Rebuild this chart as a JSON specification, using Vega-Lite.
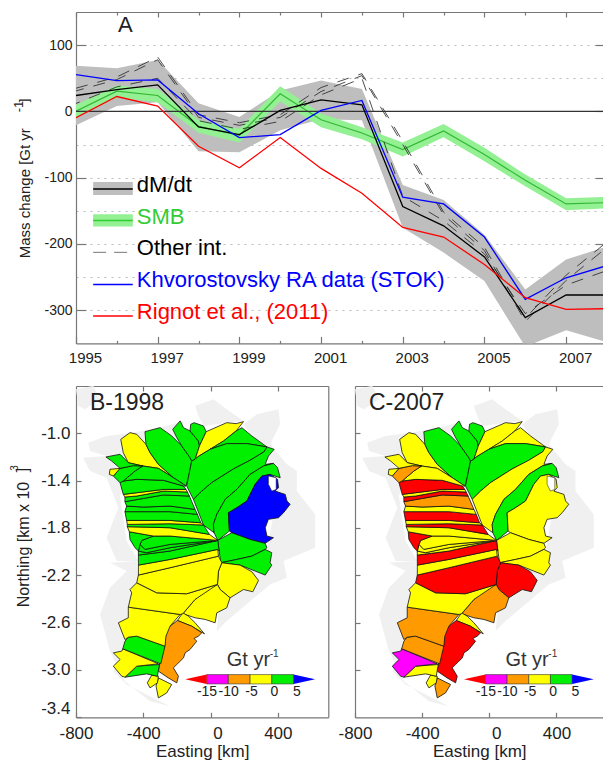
{
"$schema":"https://vega.github.io/schema/vega-lite/v6.json",
"padding":{"left":9,"top":11,"right":0,"bottom":2},
"background":"white",
"config":{"font":"Liberation Sans","view":{"stroke":null},"axis":{"labelColor":"#222","titleColor":"#222","titleFontWeight":"normal","grid":false,"domainColor":"#777","domainWidth":1.2,"tickColor":"#777","tickWidth":1.2,"domain":false}},
"datasets":{
"series":[
{"year":1995,"dm":24,"lo":-21,"hi":69,"smb":0.5,"sl":-10,"sh":10,"khv":55.5,"rig":-9.5,"o1":35,"o2":31,"o3":12},
{"year":1996,"dm":33,"lo":8,"hi":65,"smb":30.5,"sl":21,"sh":39,"khv":46.5,"rig":22.5,"o1":52,"o2":48,"o3":37},
{"year":1997,"dm":40,"lo":14,"hi":77.5,"smb":24,"sl":14,"sh":34,"khv":47.5,"rig":8,"o1":82,"o2":78,"o3":50},
{"year":1998,"dm":-23.5,"lo":-60,"hi":12.5,"smb":-22.5,"sl":-32,"sh":-13,"khv":-3.5,"rig":-52.5,"o1":-5,"o2":-9,"o3":-14},
{"year":1999,"dm":-35,"lo":-61.6,"hi":-8.5,"smb":-36,"sl":-47,"sh":-26,"khv":-39.5,"rig":-85,"o1":-17,"o2":-21,"o3":-27},
{"year":2000,"dm":1.5,"lo":-28.5,"hi":31.5,"smb":26.5,"sl":15,"sh":38,"khv":-35,"rig":-39.5,"o1":-5,"o2":-9,"o3":-15},
{"year":2001,"dm":17.5,"lo":-12,"hi":46.5,"smb":-12.5,"sl":-24,"sh":-3,"khv":1.5,"rig":-86,"o1":36,"o2":30,"o3":25},
{"year":2002,"dm":10,"lo":-13.5,"hi":34,"smb":-32.5,"sl":-42,"sh":-24,"khv":16.5,"rig":-123.5,"o1":57,"o2":54,"o3":50},
{"year":2003,"dm":-143.6,"lo":-175.5,"hi":-111,"smb":-57.5,"sl":-68,"sh":-47,"khv":-129.5,"rig":-175,"o1":-45,"o2":-50,"o3":-128},
{"year":2004,"dm":-172.6,"lo":-213,"hi":-133.6,"smb":-29.5,"sl":-39,"sh":-19,"khv":-139.6,"rig":-189.5,"o1":-152,"o2":-156,"o3":-165},
{"year":2005,"dm":-219.6,"lo":-256,"hi":-186,"smb":-65,"sl":-75,"sh":-55,"khv":-189.5,"rig":-231,"o1":-205,"o2":-210,"o3":-215},
{"year":2006,"dm":-311,"lo":-355,"hi":-268.6,"smb":-104,"sl":-113,"sh":-95,"khv":-283.6,"rig":-281,"o1":-312,"o2":-317,"o3":-305},
{"year":2007,"dm":-277,"lo":-330,"hi":-223.6,"smb":-139.6,"sl":-149,"sh":-131,"khv":-251,"rig":-298.6,"o1":-247,"o2":-255,"o3":-262},
{"year":2008,"dm":-277,"lo":-348,"hi":-203.6,"smb":-137.6,"sl":-146,"sh":-129,"khv":-232.6,"rig":-297.6,"o1":-197,"o2":-205,"o3":-240}
],
"legendRows":[
{"name":"dM/dt","x0":1995.42,"x1":1996.39,"tx":1996.49,"ty":-111,"ly":-117,"b0":-126,"b1":-106.5},
{"name":"SMB","x0":1995.42,"x1":1996.39,"tx":1996.49,"ty":-158.6,"ly":-164.6,"b0":-173.6,"b1":-155},
{"name":"Other int.","x0":1995.42,"x1":1996.39,"tx":1996.49,"ty":-205.6,"ly":-212.6},
{"name":"Khvorostovsky RA data (STOK)","x0":1995.42,"x1":1996.39,"tx":1996.49,"ty":-254.6,"ly":-261},
{"name":"Rignot et al., (2011)","x0":1995.42,"x1":1996.39,"tx":1996.49,"ty":-302.7,"ly":-308.7}
],
"land":[
{"b":"G1","e":-800,"n":-0.628},{"b":"G1","e":-697,"n":-0.599},{"b":"G1","e":-657,"n":-0.712},{"b":"G1","e":-747,"n":-0.797},{"b":"G1","e":-786,"n":-0.769},
{"b":"G2","e":-727,"n":-1.079},{"b":"G2","e":-618,"n":-1.022},{"b":"G2","e":-459,"n":-0.994},{"b":"G2","e":-261,"n":-0.938},{"b":"G2","e":-161,"n":-0.895},{"b":"G2","e":-161,"n":-1.121},{"b":"G2","e":-439,"n":-1.375},{"b":"G2","e":-618,"n":-1.192},{"b":"G2","e":-717,"n":-1.149},
{"b":"G3","e":-757,"n":-1.206},{"b":"G3","e":-618,"n":-1.192},{"b":"G3","e":-499,"n":-1.375},{"b":"G3","e":-538,"n":-1.53},{"b":"G3","e":-499,"n":-1.911},{"b":"G3","e":-429,"n":-2.08},{"b":"G3","e":-558,"n":-2.08},{"b":"G3","e":-618,"n":-1.882},{"b":"G3","e":-548,"n":-1.629},{"b":"G3","e":-618,"n":-1.375},{"b":"G3","e":-717,"n":-1.318},
{"b":"G4","e":-598,"n":-2.094},{"b":"G4","e":-439,"n":-2.08},{"b":"G4","e":-429,"n":-2.277},{"b":"G4","e":-538,"n":-2.898},{"b":"G4","e":-578,"n":-3.01},{"b":"G4","e":-499,"n":-3.123},{"b":"G4","e":-320,"n":-3.25},{"b":"G4","e":-241,"n":-3.307},{"b":"G4","e":-360,"n":-3.264},{"b":"G4","e":-509,"n":-3.095},{"b":"G4","e":-598,"n":-2.841},{"b":"G4","e":-657,"n":-2.531},{"b":"G4","e":-598,"n":-2.305},{"b":"G4","e":-499,"n":-2.164},
{"b":"G5","e":-92,"n":-0.769},{"b":"G5","e":17,"n":-0.712},{"b":"G5","e":96,"n":-0.797},{"b":"G5","e":196,"n":-0.895},{"b":"G5","e":96,"n":-0.91},{"b":"G5","e":-42,"n":-0.938},{"b":"G5","e":-72,"n":-0.853},
{"b":"G6","e":196,"n":-0.924},{"b":"G6","e":275,"n":-0.839},{"b":"G6","e":404,"n":-0.797},{"b":"G6","e":414,"n":-0.924},{"b":"G6","e":354,"n":-1.093},{"b":"G6","e":454,"n":-1.262},{"b":"G6","e":513,"n":-1.318},{"b":"G6","e":513,"n":-1.488},{"b":"G6","e":622,"n":-1.685},{"b":"G6","e":622,"n":-1.967},{"b":"G6","e":434,"n":-2.08},{"b":"G6","e":454,"n":-2.221},{"b":"G6","e":354,"n":-2.277},{"b":"G6","e":96,"n":-2.587},{"b":"G6","e":37,"n":-2.672},{"b":"G6","e":57,"n":-2.362},{"b":"G6","e":335,"n":-1.995},{"b":"G6","e":374,"n":-1.685},{"b":"G6","e":354,"n":-1.262},{"b":"G6","e":235,"n":-1.008}
],
"holes":[
{"b":"H1","e":344,"n":-1.361},{"b":"H1","e":390,"n":-1.375},{"b":"H1","e":390,"n":-1.474},{"b":"H1","e":364,"n":-1.488},{"b":"H1","e":344,"n":-1.431},{"b":"H1","e":344,"n":-1.361}
],
"rates":[
{"b":"N1","c1998":"-5 to 0","c2007":"-5 to 0"},{"b":"N2","c1998":"0 to 5","c2007":"0 to 5"},{"b":"N3","c1998":"0 to 5","c2007":"0 to 5"},{"b":"N4","c1998":"0 to 5","c2007":"0 to 5"},{"b":"N5","c1998":"-5 to 0","c2007":"-5 to 0"},
{"b":"NEa","c1998":"0 to 5","c2007":"-5 to 0"},{"b":"NEb","c1998":"0 to 5","c2007":"0 to 5"},{"b":"NEc","c1998":"0 to 5","c2007":"-5 to 0"},{"b":"NEd","c1998":"0 to 5","c2007":"0 to 5"},{"b":"NEe","c1998":"over 5","c2007":"-5 to 0"},
{"b":"E1","c1998":"0 to 5","c2007":"-5 to 0"},{"b":"E2","c1998":"0 to 5","c2007":"-5 to 0"},{"b":"SE1","c1998":"-5 to 0","c2007":"under -15"},{"b":"SE2","c1998":"-5 to 0","c2007":"-10 to -5"},{"b":"S","c1998":"-5 to 0","c2007":"-5 to 0"},{"b":"SE3","c1998":"-10 to -5","c2007":"under -15"},{"b":"ST","c1998":"-5 to 0","c2007":"-10 to -5"},{"b":"SS","c1998":"-5 to 0","c2007":"-5 to 0"},
{"b":"SW1","c1998":"0 to 5","c2007":"-5 to 0"},{"b":"SW2","c1998":"-5 to 0","c2007":"-15 to -10"},{"b":"SW3","c1998":"0 to 5","c2007":"-10 to -5"},{"b":"SW4","c1998":"-5 to 0","c2007":"-10 to -5"},{"b":"WS1","c1998":"-5 to 0","c2007":"-5 to 0"},{"b":"WS2","c1998":"-5 to 0","c2007":"under -15"},
{"b":"W15","c1998":"-5 to 0","c2007":"-5 to 0"},{"b":"W14","c1998":"0 to 5","c2007":"under -15"},{"b":"W13","c1998":"0 to 5","c2007":"-5 to 0"},{"b":"W12","c1998":"0 to 5","c2007":"-5 to 0"},{"b":"W11","c1998":"0 to 5","c2007":"-5 to 0"},{"b":"W10","c1998":"0 to 5","c2007":"under -15"},{"b":"W9","c1998":"-5 to 0","c2007":"-5 to 0"},{"b":"W8","c1998":"0 to 5","c2007":"under -15"},{"b":"W7","c1998":"-5 to 0","c2007":"-5 to 0"},{"b":"W6","c1998":"0 to 5","c2007":"under -15"},{"b":"W5","c1998":"0 to 5","c2007":"-5 to 0"},{"b":"W4","c1998":"0 to 5","c2007":"-10 to -5"},{"b":"W3","c1998":"0 to 5","c2007":"under -15"},{"b":"W2","c1998":"-5 to 0","c2007":"-5 to 0"},{"b":"W1","c1998":"0 to 5","c2007":"under -15"},
{"b":"NW3","c1998":"0 to 5","c2007":"-5 to 0"},{"b":"NW2","c1998":"0 to 5","c2007":"-10 to -5"},{"b":"NW1","c1998":"-5 to 0","c2007":"-5 to 0"},{"b":"NW0","c1998":"0 to 5","c2007":"-5 to 0"}
],
"basins":[
{"b":"N1","e":-534,"n":-1.051},{"b":"N1","e":-479,"n":-0.994},{"b":"N1","e":-439,"n":-1.008},{"b":"N1","e":-384,"n":-1.093},{"b":"N1","e":-360,"n":-1.163},{"b":"N1","e":-310,"n":-1.262},{"b":"N1","e":-221,"n":-1.375},{"b":"N1","e":-310,"n":-1.296},{"b":"N1","e":-403,"n":-1.276},{"b":"N1","e":-489,"n":-1.248},{"b":"N1","e":-519,"n":-1.163},{"b":"N1","e":-534,"n":-1.051},
{"b":"N2","e":-390,"n":-0.986},{"b":"N2","e":-300,"n":-0.952},{"b":"N2","e":-231,"n":-1.022},{"b":"N2","e":-171,"n":-1.107},{"b":"N2","e":-122,"n":-1.206},{"b":"N2","e":-112,"n":-1.234},{"b":"N2","e":-132,"n":-1.375},{"b":"N2","e":-146,"n":-1.445},{"b":"N2","e":-221,"n":-1.375},{"b":"N2","e":-310,"n":-1.262},{"b":"N2","e":-360,"n":-1.163},{"b":"N2","e":-384,"n":-1.093},{"b":"N2","e":-390,"n":-0.986},
{"b":"N3","e":-225,"n":-0.966},{"b":"N3","e":-181,"n":-0.895},{"b":"N3","e":-161,"n":-0.952},{"b":"N3","e":-122,"n":-0.98},{"b":"N3","e":-72,"n":-1.065},{"b":"N3","e":-66,"n":-1.107},{"b":"N3","e":-92,"n":-1.22},{"b":"N3","e":-112,"n":-1.234},{"b":"N3","e":-122,"n":-1.206},{"b":"N3","e":-171,"n":-1.107},{"b":"N3","e":-201,"n":-1.036},{"b":"N3","e":-225,"n":-0.966},
{"b":"N4","e":-118,"n":-0.924},{"b":"N4","e":-98,"n":-0.91},{"b":"N4","e":-42,"n":-0.938},{"b":"N4","e":-26,"n":-0.986},{"b":"N4","e":-66,"n":-1.107},{"b":"N4","e":-72,"n":-1.065},{"b":"N4","e":-122,"n":-0.98},{"b":"N4","e":-118,"n":-0.924},
{"b":"N5","e":-26,"n":-0.986},{"b":"N5","e":96,"n":-0.91},{"b":"N5","e":152,"n":-0.918},{"b":"N5","e":196,"n":-0.901},{"b":"N5","e":152,"n":-0.98},{"b":"N5","e":77,"n":-1.065},{"b":"N5","e":-3,"n":-1.135},{"b":"N5","e":-78,"n":-1.2},{"b":"N5","e":-92,"n":-1.22},{"b":"N5","e":-66,"n":-1.107},{"b":"N5","e":-26,"n":-0.986},
{"b":"NEa","e":-3,"n":-1.135},{"b":"NEa","e":77,"n":-1.065},{"b":"NEa","e":152,"n":-0.98},{"b":"NEa","e":186,"n":-0.952},{"b":"NEa","e":245,"n":-1.022},{"b":"NEa","e":335,"n":-1.115},{"b":"NEa","e":216,"n":-1.087},{"b":"NEa","e":96,"n":-1.087},{"b":"NEa","e":-3,"n":-1.135},
{"b":"NEb","e":-92,"n":-1.22},{"b":"NEb","e":-78,"n":-1.2},{"b":"NEb","e":-3,"n":-1.135},{"b":"NEb","e":96,"n":-1.087},{"b":"NEb","e":216,"n":-1.087},{"b":"NEb","e":335,"n":-1.115},{"b":"NEb","e":319,"n":-1.155},{"b":"NEb","e":235,"n":-1.228},{"b":"NEb","e":136,"n":-1.301},{"b":"NEb","e":7,"n":-1.417},{"b":"NEb","e":-52,"n":-1.488},{"b":"NEb","e":-102,"n":-1.558},{"b":"NEb","e":-142,"n":-1.445},{"b":"NEb","e":-132,"n":-1.375},{"b":"NEb","e":-112,"n":-1.234},{"b":"NEb","e":-92,"n":-1.22},
{"b":"NEc","e":-102,"n":-1.558},{"b":"NEc","e":-52,"n":-1.488},{"b":"NEc","e":7,"n":-1.417},{"b":"NEc","e":136,"n":-1.301},{"b":"NEc","e":235,"n":-1.228},{"b":"NEc","e":319,"n":-1.155},{"b":"NEc","e":335,"n":-1.115},{"b":"NEc","e":378,"n":-1.135},{"b":"NEc","e":344,"n":-1.192},{"b":"NEc","e":325,"n":-1.262},{"b":"NEc","e":374,"n":-1.254},{"b":"NEc","e":315,"n":-1.276},{"b":"NEc","e":235,"n":-1.347},{"b":"NEc","e":156,"n":-1.474},{"b":"NEc","e":87,"n":-1.558},{"b":"NEc","e":37,"n":-1.685},{"b":"NEc","e":17,"n":-1.77},{"b":"NEc","e":21,"n":-1.84},{"b":"NEc","e":-42,"n":-1.775},{"b":"NEc","e":-102,"n":-1.558},
{"b":"NEd","e":17,"n":-1.77},{"b":"NEd","e":37,"n":-1.685},{"b":"NEd","e":87,"n":-1.558},{"b":"NEd","e":156,"n":-1.474},{"b":"NEd","e":235,"n":-1.347},{"b":"NEd","e":315,"n":-1.276},{"b":"NEd","e":374,"n":-1.254},{"b":"NEd","e":398,"n":-1.29},{"b":"NEd","e":414,"n":-1.375},{"b":"NEd","e":354,"n":-1.347},{"b":"NEd","e":305,"n":-1.361},{"b":"NEd","e":265,"n":-1.431},{"b":"NEd","e":216,"n":-1.572},{"b":"NEd","e":156,"n":-1.629},{"b":"NEd","e":106,"n":-1.671},{"b":"NEd","e":112,"n":-1.826},{"b":"NEd","e":43,"n":-1.905},{"b":"NEd","e":21,"n":-1.84},{"b":"NEd","e":17,"n":-1.77},
{"b":"NEe","e":305,"n":-1.361},{"b":"NEe","e":354,"n":-1.347},{"b":"NEe","e":398,"n":-1.389},{"b":"NEe","e":404,"n":-1.459},{"b":"NEe","e":384,"n":-1.488},{"b":"NEe","e":444,"n":-1.516},{"b":"NEe","e":454,"n":-1.572},{"b":"NEe","e":473,"n":-1.6},{"b":"NEe","e":434,"n":-1.671},{"b":"NEe","e":404,"n":-1.713},{"b":"NEe","e":344,"n":-1.727},{"b":"NEe","e":325,"n":-1.798},{"b":"NEe","e":335,"n":-1.868},{"b":"NEe","e":374,"n":-1.882},{"b":"NEe","e":325,"n":-1.93},{"b":"NEe","e":235,"n":-1.897},{"b":"NEe","e":126,"n":-1.84},{"b":"NEe","e":112,"n":-1.826},{"b":"NEe","e":106,"n":-1.671},{"b":"NEe","e":156,"n":-1.629},{"b":"NEe","e":216,"n":-1.572},{"b":"NEe","e":265,"n":-1.431},{"b":"NEe","e":305,"n":-1.361},
{"b":"E1","e":43,"n":-1.905},{"b":"E1","e":126,"n":-1.84},{"b":"E1","e":235,"n":-1.897},{"b":"E1","e":325,"n":-1.93},{"b":"E1","e":335,"n":-1.967},{"b":"E1","e":325,"n":-1.981},{"b":"E1","e":245,"n":-2.038},{"b":"E1","e":156,"n":-2.066},{"b":"E1","e":61,"n":-2.094},{"b":"E1","e":51,"n":-1.995},{"b":"E1","e":43,"n":-1.905},
{"b":"E2","e":61,"n":-2.094},{"b":"E2","e":156,"n":-2.066},{"b":"E2","e":245,"n":-2.038},{"b":"E2","e":325,"n":-1.981},{"b":"E2","e":364,"n":-2.009},{"b":"E2","e":354,"n":-2.094},{"b":"E2","e":364,"n":-2.114},{"b":"E2","e":325,"n":-2.198},{"b":"E2","e":265,"n":-2.164},{"b":"E2","e":176,"n":-2.114},{"b":"E2","e":61,"n":-2.094},
{"b":"SE1","e":67,"n":-2.094},{"b":"SE1","e":47,"n":-2.164},{"b":"SE1","e":41,"n":-2.277},{"b":"SE1","e":57,"n":-2.32},{"b":"SE1","e":116,"n":-2.39},{"b":"SE1","e":196,"n":-2.32},{"b":"SE1","e":251,"n":-2.339},{"b":"SE1","e":285,"n":-2.243},{"b":"SE1","e":245,"n":-2.17},{"b":"SE1","e":176,"n":-2.114},{"b":"SE1","e":67,"n":-2.094},
{"b":"SE2","e":41,"n":-2.277},{"b":"SE2","e":57,"n":-2.32},{"b":"SE2","e":116,"n":-2.39},{"b":"SE2","e":96,"n":-2.475},{"b":"SE2","e":37,"n":-2.517},{"b":"SE2","e":27,"n":-2.601},{"b":"SE2","e":-32,"n":-2.573},{"b":"SE2","e":-92,"n":-2.559},{"b":"SE2","e":-165,"n":-2.525},{"b":"SE2","e":-92,"n":-2.404},{"b":"SE2","e":-3,"n":-2.305},{"b":"SE2","e":41,"n":-2.277},
{"b":"S","e":-165,"n":-2.517},{"b":"S","e":-197,"n":-2.582},{"b":"S","e":-112,"n":-2.63},{"b":"S","e":-36,"n":-2.695},{"b":"S","e":-92,"n":-2.601},{"b":"S","e":-132,"n":-2.545},{"b":"S","e":-165,"n":-2.517},
{"b":"SE3","e":-197,"n":-2.582},{"b":"SE3","e":-112,"n":-2.63},{"b":"SE3","e":-52,"n":-2.686},{"b":"SE3","e":-72,"n":-2.714},{"b":"SE3","e":-98,"n":-2.734},{"b":"SE3","e":-82,"n":-2.757},{"b":"SE3","e":-122,"n":-2.827},{"b":"SE3","e":-151,"n":-2.855},{"b":"SE3","e":-161,"n":-2.898},{"b":"SE3","e":-201,"n":-2.954},{"b":"SE3","e":-221,"n":-2.982},{"b":"SE3","e":-191,"n":-3.053},{"b":"SE3","e":-201,"n":-3.109},{"b":"SE3","e":-251,"n":-3.067},{"b":"SE3","e":-310,"n":-3.01},{"b":"SE3","e":-296,"n":-2.884},{"b":"SE3","e":-271,"n":-2.785},{"b":"SE3","e":-265,"n":-2.672},{"b":"SE3","e":-241,"n":-2.63},{"b":"SE3","e":-197,"n":-2.582},
{"b":"ST","e":-310,"n":-3.067},{"b":"ST","e":-231,"n":-3.123},{"b":"ST","e":-261,"n":-3.194},{"b":"ST","e":-310,"n":-3.236},{"b":"ST","e":-324,"n":-3.137},{"b":"ST","e":-310,"n":-3.067},
{"b":"SS","e":-350,"n":-3.044},{"b":"SS","e":-310,"n":-3.053},{"b":"SS","e":-316,"n":-3.109},{"b":"SS","e":-360,"n":-3.151},{"b":"SS","e":-376,"n":-3.109},{"b":"SS","e":-350,"n":-3.044},
{"b":"SW1","e":-509,"n":-3.061},{"b":"SW1","e":-439,"n":-2.968},{"b":"SW1","e":-304,"n":-2.954},{"b":"SW1","e":-316,"n":-3.053},{"b":"SW1","e":-380,"n":-3.033},{"b":"SW1","e":-509,"n":-3.061},
{"b":"SW2","e":-522,"n":-2.821},{"b":"SW2","e":-310,"n":-2.948},{"b":"SW2","e":-439,"n":-2.968},{"b":"SW2","e":-509,"n":-3.061},{"b":"SW2","e":-528,"n":-3.053},{"b":"SW2","e":-578,"n":-2.968},{"b":"SW2","e":-538,"n":-2.912},{"b":"SW2","e":-578,"n":-2.855},{"b":"SW2","e":-528,"n":-2.841},{"b":"SW2","e":-522,"n":-2.821},
{"b":"SW3","e":-489,"n":-2.723},{"b":"SW3","e":-439,"n":-2.714},{"b":"SW3","e":-271,"n":-2.799},{"b":"SW3","e":-296,"n":-2.948},{"b":"SW3","e":-522,"n":-2.821},{"b":"SW3","e":-509,"n":-2.757},{"b":"SW3","e":-489,"n":-2.723},
{"b":"SW4","e":-489,"n":-2.469},{"b":"SW4","e":-181,"n":-2.531},{"b":"SW4","e":-241,"n":-2.63},{"b":"SW4","e":-265,"n":-2.714},{"b":"SW4","e":-271,"n":-2.799},{"b":"SW4","e":-439,"n":-2.714},{"b":"SW4","e":-489,"n":-2.723},{"b":"SW4","e":-509,"n":-2.743},{"b":"SW4","e":-548,"n":-2.601},{"b":"SW4","e":-489,"n":-2.559},{"b":"SW4","e":-489,"n":-2.469},
{"b":"WS1","e":-439,"n":-2.263},{"b":"WS1","e":-320,"n":-2.348},{"b":"WS1","e":-142,"n":-2.356},{"b":"WS1","e":41,"n":-2.277},{"b":"WS1","e":-92,"n":-2.404},{"b":"WS1","e":-165,"n":-2.525},{"b":"WS1","e":-181,"n":-2.531},{"b":"WS1","e":-489,"n":-2.469},{"b":"WS1","e":-469,"n":-2.348},{"b":"WS1","e":-479,"n":-2.32},{"b":"WS1","e":-439,"n":-2.263},
{"b":"WS2","e":-429,"n":-2.198},{"b":"WS2","e":-241,"n":-2.136},{"b":"WS2","e":47,"n":-2.038},{"b":"WS2","e":67,"n":-2.094},{"b":"WS2","e":47,"n":-2.164},{"b":"WS2","e":41,"n":-2.277},{"b":"WS2","e":-142,"n":-2.356},{"b":"WS2","e":-320,"n":-2.348},{"b":"WS2","e":-439,"n":-2.263},{"b":"WS2","e":-429,"n":-2.198},
{"b":"W15","e":-429,"n":-2.114},{"b":"W15","e":-241,"n":-2.066},{"b":"W15","e":43,"n":-1.981},{"b":"W15","e":47,"n":-2.038},{"b":"W15","e":-241,"n":-2.136},{"b":"W15","e":-429,"n":-2.198},{"b":"W15","e":-429,"n":-2.114},
{"b":"W14","e":-429,"n":-2.029},{"b":"W14","e":-241,"n":-1.995},{"b":"W14","e":43,"n":-1.905},{"b":"W14","e":51,"n":-1.995},{"b":"W14","e":43,"n":-1.981},{"b":"W14","e":-241,"n":-2.066},{"b":"W14","e":-429,"n":-2.114},{"b":"W14","e":-429,"n":-2.029},
{"b":"W13","e":-429,"n":-1.995},{"b":"W13","e":-380,"n":-2.009},{"b":"W13","e":-241,"n":-1.967},{"b":"W13","e":43,"n":-1.905},{"b":"W13","e":-241,"n":-1.995},{"b":"W13","e":-429,"n":-2.029},{"b":"W13","e":-429,"n":-1.995},
{"b":"W12","e":-419,"n":-1.939},{"b":"W12","e":-390,"n":-1.981},{"b":"W12","e":-241,"n":-1.939},{"b":"W12","e":43,"n":-1.905},{"b":"W12","e":-241,"n":-1.967},{"b":"W12","e":-380,"n":-2.009},{"b":"W12","e":-429,"n":-1.995},{"b":"W12","e":-419,"n":-1.939},
{"b":"W11","e":-340,"n":-1.868},{"b":"W11","e":-241,"n":-1.868},{"b":"W11","e":43,"n":-1.905},{"b":"W11","e":-241,"n":-1.939},{"b":"W11","e":-390,"n":-1.981},{"b":"W11","e":-419,"n":-1.939},{"b":"W11","e":-409,"n":-1.905},{"b":"W11","e":-340,"n":-1.868},
{"b":"W10","e":-483,"n":-1.832},{"b":"W10","e":-340,"n":-1.868},{"b":"W10","e":-409,"n":-1.905},{"b":"W10","e":-419,"n":-1.939},{"b":"W10","e":-429,"n":-1.995},{"b":"W10","e":-449,"n":-1.967},{"b":"W10","e":-479,"n":-1.897},{"b":"W10","e":-483,"n":-1.832},
{"b":"W9","e":-495,"n":-1.789},{"b":"W9","e":-241,"n":-1.798},{"b":"W9","e":-7,"n":-1.854},{"b":"W9","e":43,"n":-1.905},{"b":"W9","e":-241,"n":-1.868},{"b":"W9","e":-340,"n":-1.868},{"b":"W9","e":-483,"n":-1.832},{"b":"W9","e":-495,"n":-1.789},
{"b":"W8","e":-495,"n":-1.77},{"b":"W8","e":-241,"n":-1.764},{"b":"W8","e":-42,"n":-1.775},{"b":"W8","e":-7,"n":-1.854},{"b":"W8","e":-241,"n":-1.798},{"b":"W8","e":-495,"n":-1.789},{"b":"W8","e":-495,"n":-1.77},
{"b":"W7","e":-499,"n":-1.736},{"b":"W7","e":-241,"n":-1.736},{"b":"W7","e":-58,"n":-1.756},{"b":"W7","e":-42,"n":-1.775},{"b":"W7","e":-241,"n":-1.764},{"b":"W7","e":-495,"n":-1.77},{"b":"W7","e":-499,"n":-1.736},
{"b":"W6","e":-509,"n":-1.662},{"b":"W6","e":-241,"n":-1.662},{"b":"W6","e":-78,"n":-1.685},{"b":"W6","e":-58,"n":-1.756},{"b":"W6","e":-241,"n":-1.736},{"b":"W6","e":-499,"n":-1.736},{"b":"W6","e":-509,"n":-1.662},
{"b":"W5","e":-499,"n":-1.615},{"b":"W5","e":-399,"n":-1.623},{"b":"W5","e":-241,"n":-1.615},{"b":"W5","e":-92,"n":-1.643},{"b":"W5","e":-78,"n":-1.685},{"b":"W5","e":-241,"n":-1.662},{"b":"W5","e":-509,"n":-1.662},{"b":"W5","e":-499,"n":-1.615},
{"b":"W4","e":-509,"n":-1.578},{"b":"W4","e":-399,"n":-1.55},{"b":"W4","e":-280,"n":-1.521},{"b":"W4","e":-126,"n":-1.53},{"b":"W4","e":-92,"n":-1.643},{"b":"W4","e":-241,"n":-1.615},{"b":"W4","e":-399,"n":-1.623},{"b":"W4","e":-499,"n":-1.615},{"b":"W4","e":-509,"n":-1.578},
{"b":"W3","e":-509,"n":-1.538},{"b":"W3","e":-439,"n":-1.53},{"b":"W3","e":-280,"n":-1.488},{"b":"W3","e":-138,"n":-1.496},{"b":"W3","e":-126,"n":-1.53},{"b":"W3","e":-280,"n":-1.521},{"b":"W3","e":-399,"n":-1.55},{"b":"W3","e":-509,"n":-1.578},{"b":"W3","e":-509,"n":-1.538},
{"b":"W2","e":-519,"n":-1.516},{"b":"W2","e":-439,"n":-1.502},{"b":"W2","e":-280,"n":-1.474},{"b":"W2","e":-146,"n":-1.474},{"b":"W2","e":-138,"n":-1.496},{"b":"W2","e":-280,"n":-1.488},{"b":"W2","e":-439,"n":-1.53},{"b":"W2","e":-509,"n":-1.538},{"b":"W2","e":-519,"n":-1.516},
{"b":"W1","e":-538,"n":-1.417},{"b":"W1","e":-519,"n":-1.403},{"b":"W1","e":-439,"n":-1.389},{"b":"W1","e":-280,"n":-1.397},{"b":"W1","e":-161,"n":-1.445},{"b":"W1","e":-146,"n":-1.474},{"b":"W1","e":-280,"n":-1.474},{"b":"W1","e":-439,"n":-1.502},{"b":"W1","e":-519,"n":-1.516},{"b":"W1","e":-538,"n":-1.417},
{"b":"NW3","e":-403,"n":-1.276},{"b":"NW3","e":-310,"n":-1.296},{"b":"NW3","e":-221,"n":-1.375},{"b":"NW3","e":-146,"n":-1.445},{"b":"NW3","e":-161,"n":-1.445},{"b":"NW3","e":-280,"n":-1.397},{"b":"NW3","e":-439,"n":-1.389},{"b":"NW3","e":-519,"n":-1.403},{"b":"NW3","e":-449,"n":-1.318},{"b":"NW3","e":-403,"n":-1.276},
{"b":"NW2","e":-578,"n":-1.361},{"b":"NW2","e":-538,"n":-1.296},{"b":"NW2","e":-459,"n":-1.273},{"b":"NW2","e":-403,"n":-1.276},{"b":"NW2","e":-449,"n":-1.318},{"b":"NW2","e":-519,"n":-1.403},{"b":"NW2","e":-538,"n":-1.417},{"b":"NW2","e":-578,"n":-1.361},
{"b":"NW1","e":-598,"n":-1.304},{"b":"NW1","e":-538,"n":-1.296},{"b":"NW1","e":-578,"n":-1.361},{"b":"NW1","e":-602,"n":-1.347},{"b":"NW1","e":-598,"n":-1.304},
{"b":"NW0","e":-622,"n":-1.2},{"b":"NW0","e":-538,"n":-1.177},{"b":"NW0","e":-489,"n":-1.248},{"b":"NW0","e":-403,"n":-1.276},{"b":"NW0","e":-459,"n":-1.273},{"b":"NW0","e":-538,"n":-1.296},{"b":"NW0","e":-588,"n":-1.234},{"b":"NW0","e":-622,"n":-1.2}
],
"cbarBoxes":[
{"cls":"-15 to -10","e0":-23,"e1":106,"n0":-3.039,"n1":-3.118},
{"cls":"-10 to -5","e0":106,"e1":235,"n0":-3.039,"n1":-3.118},
{"cls":"-5 to 0","e0":235,"e1":364,"n0":-3.039,"n1":-3.118},
{"cls":"0 to 5","e0":364,"e1":493,"n0":-3.039,"n1":-3.118}
],
"cbarTips":[
{"cls":"under -15","e":-23,"n":-3.039},{"cls":"under -15","e":-23,"n":-3.118},{"cls":"under -15","e":-151,"n":-3.078},{"cls":"under -15","e":-23,"n":-3.039},
{"cls":"over 5","e":493,"n":-3.039},{"cls":"over 5","e":493,"n":-3.118},{"cls":"over 5","e":622,"n":-3.078},{"cls":"over 5","e":493,"n":-3.039}
],
"cbarLabels":[
{"t":"-15","e":-21,"n":-3.185},{"t":"-10","e":108,"n":-3.185},{"t":"-5","e":243,"n":-3.185},{"t":"0","e":380,"n":-3.185},{"t":"5","e":513,"n":-3.185}
]
},
"bounds":"flush",
"spacing":42,
"vconcat":[
{
"width":527.3,"height":331.4,
"data":{"name":"series"},
"resolve":{"axis":{"x":"independent","y":"independent"}},
"encoding":{"x":{"field":"year","type":"quantitative","axis":null,"scale":{"domain":[1995,2007.91],"nice":false,"zero":false}}},
"layer":[
{"mark":{"type":"area","color":"#bebebe","clip":true},
 "encoding":{
  "x":{"field":"year","type":"quantitative","scale":{"domain":[1995,2007.91],"nice":false,"zero":false},"axis":{"orient":"bottom","domain":true,"values":[1995,1997,1999,2001,2003,2005,2007],"format":"d","tickSize":-7,"labelPadding":14,"labelFontSize":15,"labelOffset":9,"labelFlush":false,"labelOverlap":false,"title":null}},
  "y":{"field":"hi","type":"quantitative","scale":{"domain":[-350,150],"nice":false,"zero":false},"axis":{"orient":"left","domain":true,"values":[-300,-200,-100,0,100],"labelExpr":"(datum.value<0?'-':'')+format(abs(datum.value),'d')","tickSize":-10,"labelPadding":14,"labelFontSize":14,"title":"Mass change [Gt yr","titleFontSize":15,"titleX":-43.7,"titleY":180.7}},
  "y2":{"field":"lo"}}},
{"mark":{"type":"area","color":"#93f093","clip":true},
 "encoding":{
  "x":{"field":"year","type":"quantitative","scale":{"domain":[1995,2007.91],"nice":false,"zero":false},"axis":{"orient":"bottom","values":[1996,1998,2000,2002,2004,2006],"tickSize":-3,"labels":false,"title":null}},
  "y":{"field":"sh","type":"quantitative","axis":{"orient":"left","values":[-300,-250,-200,-150,-100,-50,50,100],"grid":true,"gridDash":[2,5],"gridColor":"#bbbbbb","gridWidth":1.2,"ticks":false,"labels":false,"title":null}},
  "y2":{"field":"sl"}}},
{"mark":{"type":"line","color":"#33b833","strokeWidth":1.2,"clip":true},
 "encoding":{
  "x":{"field":"year","type":"quantitative","scale":{"domain":[1995,2007.91],"nice":false,"zero":false},"axis":{"orient":"top","domain":true,"values":[1995,1997,1999,2001,2003,2005,2007],"tickSize":-5,"labels":false,"title":null}},
  "y":{"field":"smb","type":"quantitative","axis":{"orient":"right","values":[-300,-200,-100,0,100],"tickSize":-8,"labels":false,"title":null}}}},
{"mark":{"type":"line","color":"#222","strokeWidth":0.8,"strokeDash":[12,10],"clip":true},
 "encoding":{
  "x":{"field":"year","type":"quantitative","scale":{"domain":[1995,2007.91],"nice":false,"zero":false},"axis":{"orient":"top","values":[1996,1998,2000,2002,2004,2006],"tickSize":-3,"labels":false,"title":null}},
  "y":{"field":"o1","type":"quantitative","axis":null}}},
{"mark":{"type":"line","color":"#222","strokeWidth":0.8,"strokeDash":[12,10],"strokeDashOffset":4,"clip":true},"encoding":{"y":{"field":"o2","type":"quantitative","axis":null}}},
{"mark":{"type":"line","color":"#222","strokeWidth":0.8,"strokeDash":[12,10],"strokeDashOffset":8,"clip":true},"encoding":{"y":{"field":"o3","type":"quantitative","axis":null}}},
{"data":{"values":[{"zero":0,"x0":1995,"x1":2007.91}]},"mark":{"type":"rule","color":"#333","strokeWidth":1.3},"encoding":{"x":{"field":"x0","type":"quantitative","axis":null},"x2":{"field":"x1"},"y":{"field":"zero","type":"quantitative","axis":null}}},
{"mark":{"type":"line","color":"#000","strokeWidth":1.3,"clip":true},"encoding":{"y":{"field":"dm","type":"quantitative","axis":null}}},
{"mark":{"type":"line","color":"#0000ff","strokeWidth":1.3,"clip":true},"encoding":{"y":{"field":"khv","type":"quantitative","axis":null}}},
{"mark":{"type":"line","color":"#ff0000","strokeWidth":1.3,"clip":true},"encoding":{"y":{"field":"rig","type":"quantitative","axis":null}}},
{"data":{"name":"legendRows"},"transform":[{"filter":"datum.name==='dM/dt'"}],"mark":{"type":"rect","color":"#bebebe"},"encoding":{"x":{"field":"x0","type":"quantitative","axis":null},"x2":{"field":"x1"},"y":{"field":"b0","type":"quantitative","axis":null},"y2":{"field":"b1"}}},
{"data":{"name":"legendRows"},"transform":[{"filter":"datum.name==='SMB'"}],"mark":{"type":"rect","color":"#93f093"},"encoding":{"x":{"field":"x0","type":"quantitative","axis":null},"x2":{"field":"x1"},"y":{"field":"b0","type":"quantitative","axis":null},"y2":{"field":"b1"}}},
{"data":{"name":"legendRows"},"transform":[{"filter":"datum.name!=='Other int.'"}],"mark":{"type":"rule","strokeWidth":1.5},"encoding":{"x":{"field":"x0","type":"quantitative","axis":null},"x2":{"field":"x1"},"y":{"field":"ly","type":"quantitative","axis":null},"color":{"field":"name","type":"nominal","legend":null,"scale":{"domain":["dM/dt","SMB","Other int.","Khvorostovsky RA data (STOK)","Rignot et al., (2011)"],"range":["#000000","#33cc33","#000000","#0000ff","#ff0000"]}}}},
{"data":{"name":"legendRows"},"transform":[{"filter":"datum.name==='Other int.'"}],"mark":{"type":"rule","strokeWidth":1,"color":"#777","strokeDash":[13,8]},"encoding":{"x":{"field":"x0","type":"quantitative","axis":null},"x2":{"field":"x1"},"y":{"field":"ly","type":"quantitative","axis":null}}},
{"data":{"name":"legendRows"},"mark":{"type":"text","fontSize":22,"align":"left","baseline":"middle"},"encoding":{"x":{"field":"tx","type":"quantitative","axis":null},"y":{"field":"ty","type":"quantitative","axis":null},"text":{"field":"name"},"color":{"field":"name","type":"nominal","legend":null}}},
{"data":{"values":[{"t":"A","x":1996.21,"y":130.5}]},"mark":{"type":"text","fontSize":22,"color":"#222"},"encoding":{"x":{"field":"x","type":"quantitative","axis":null},"y":{"field":"y","type":"quantitative","axis":null},"text":{"field":"t"}}},
{"data":{"values":[{"t":"-1","x":1993.6,"y":7.5},{"t":"]","x":1993.73,"y":16.5}]},"mark":{"type":"text","fontSize":13,"angle":270,"color":"#222"},"encoding":{"x":{"field":"x","type":"quantitative","axis":null},"y":{"field":"y","type":"quantitative","axis":null},"text":{"field":"t"}}}
]
},
{
"bounds":"flush",
"spacing":26,
"hconcat":[
{
"width":252.3,"height":331.3,
"resolve":{"axis":{"x":"independent","y":"independent"}},
"layer":[
{"data":{"name":"land"},"mark":{"type":"line","fill":"#f0f0f0","stroke":null,"clip":true},
 "encoding":{"x":{"field":"e","type":"quantitative","scale":{"domain":[-800,700],"nice":false,"zero":false},"axis":{"orient":"bottom","domain":true,"values":[-800,-400,400],"labelExpr":"(datum.value<0?'-':'')+format(abs(datum.value),'d')","tickSize":-5,"labelPadding":13,"labelFontSize":17,"labelFlush":false,"labelOverlap":false,"title":"Easting [km]","titleFontSize":17,"titleY":39,"titleBaseline":"alphabetic"}},
 "y":{"field":"n","type":"quantitative","scale":{"domain":[-3.4,-0.6],"nice":false,"zero":false},"axis":{"orient":"left","domain":true,"values":[-3.4,-3.0,-2.6,-2.2,-1.8,-1.4,-1.0],"labelExpr":"(datum.value<0?'-':'')+format(abs(datum.value),'.1f')","tickSize":-5,"labelPadding":11,"labelFontSize":17,"labelFlush":true,"labelOverlap":false,"title":"Northing [km x 10","titleFontSize":16,"titleX":-45,"titleY":158}},
 "detail":{"field":"b"},"order":{"value":null}}},
{"data":{"name":"basins"},"transform":[{"lookup":"b","from":{"data":{"name":"rates"},"key":"b","fields":["c1998"]}}],"mark":{"type":"line","stroke":"#111","strokeWidth":0.8},
 "encoding":{"x":{"field":"e","type":"quantitative","axis":{"orient":"bottom","values":[0],"tickSize":-5,"labelPadding":13,"labelFontSize":17,"labelOffset":7,"title":null}},
 "y":{"field":"n","type":"quantitative","axis":{"orient":"right","domain":true,"ticks":false,"labels":false,"title":null}},
 "fill":{"field":"c1998","type":"nominal","legend":null,"scale":{"domain":["under -15","-15 to -10","-10 to -5","-5 to 0","0 to 5","over 5"],"range":["#ff0000","#ff00ff","#ff9a00","#ffff00","#00f000","#0000ff"]}},
 "detail":{"field":"b"},"order":{"value":null}}},
{"data":{"name":"holes"},"mark":{"type":"line","fill":"#ffffff","stroke":"#111","strokeWidth":0.5},
 "encoding":{"x":{"field":"e","type":"quantitative","axis":null},"y":{"field":"n","type":"quantitative","axis":null},"order":{"value":null}}},
{"data":{"name":"cbarBoxes"},"mark":{"type":"rect","stroke":"#333","strokeWidth":0.6},
 "encoding":{"x":{"field":"e0","type":"quantitative","axis":{"orient":"top","domain":true,"values":[-400,0,400],"tickSize":-5,"labels":false,"title":null}},"x2":{"field":"e1"},"y":{"field":"n0","type":"quantitative","axis":null},"y2":{"field":"n1"},"fill":{"field":"cls","type":"nominal","legend":null}}},
{"data":{"name":"cbarTips"},"mark":{"type":"line","stroke":null},
 "encoding":{"x":{"field":"e","type":"quantitative","axis":null},"y":{"field":"n","type":"quantitative","axis":null},"fill":{"field":"cls","type":"nominal","legend":null},"detail":{"field":"cls"},"order":{"value":null}}},
{"data":{"name":"cbarLabels"},"mark":{"type":"text","fontSize":14,"color":"#222"},
 "encoding":{"x":{"field":"e","type":"quantitative","axis":null},"y":{"field":"n","type":"quantitative","axis":null},"text":{"field":"t"}}},
{"data":{"values":[{"t":"Gt yr","e":225,"n":-2.912}]},"mark":{"type":"text","fontSize":20,"color":"#333"},"encoding":{"x":{"field":"e","type":"quantitative","axis":null},"y":{"field":"n","type":"quantitative","axis":null},"text":{"field":"t"}}},
{"data":{"values":[{"t":"-1","e":378,"n":-2.864}]},"mark":{"type":"text","fontSize":10,"color":"#333"},"encoding":{"x":{"field":"e","type":"quantitative","axis":null},"y":{"field":"n","type":"quantitative","axis":null},"text":{"field":"t"}}},
{"data":{"values":[{"t":"B-1998","e":-717,"n":-0.74}]},"mark":{"type":"text","fontSize":23,"color":"#222","align":"left"},"encoding":{"x":{"field":"e","type":"quantitative","axis":null},"y":{"field":"n","type":"quantitative","axis":null},"text":{"field":"t"}}},
{"data":{"values":[{"t":"3","e":-1163,"n":-1.293}]},"mark":{"type":"text","fontSize":10,"angle":270,"color":"#222"},"encoding":{"x":{"field":"e","type":"quantitative","axis":null},"y":{"field":"n","type":"quantitative","axis":null},"text":{"field":"t"}}},
{"data":{"values":[{"t":"]","e":-1115,"n":-1.31}]},"mark":{"type":"text","fontSize":16,"angle":270,"color":"#222"},"encoding":{"x":{"field":"e","type":"quantitative","axis":null},"y":{"field":"n","type":"quantitative","axis":null},"text":{"field":"t"}}}
]
},
{
"width":248.5,"height":331.3,
"resolve":{"axis":{"x":"independent","y":"independent"}},
"layer":[
{"data":{"name":"land"},"mark":{"type":"line","fill":"#f0f0f0","stroke":null,"clip":true},
 "encoding":{"x":{"field":"e","type":"quantitative","scale":{"domain":[-800,680],"nice":false,"zero":false},"axis":{"orient":"bottom","domain":true,"values":[-800,-400,400],"labelExpr":"(datum.value<0?'-':'')+format(abs(datum.value),'d')","tickSize":-5,"labelPadding":13,"labelFontSize":17,"labelFlush":false,"labelOverlap":false,"title":"Easting [km]","titleFontSize":17,"titleY":39,"titleBaseline":"alphabetic"}},
 "y":{"field":"n","type":"quantitative","scale":{"domain":[-3.4,-0.6],"nice":false,"zero":false},"axis":{"orient":"left","domain":true,"values":[-3.0,-2.6,-2.2,-1.8,-1.4,-1.0],"tickSize":-5,"labels":false,"title":null}},
 "detail":{"field":"b"},"order":{"value":null}}},
{"data":{"name":"basins"},"transform":[{"lookup":"b","from":{"data":{"name":"rates"},"key":"b","fields":["c2007"]}}],"mark":{"type":"line","stroke":"#111","strokeWidth":0.8},
 "encoding":{"x":{"field":"e","type":"quantitative","axis":{"orient":"bottom","values":[0],"tickSize":-5,"labelPadding":13,"labelFontSize":17,"labelOffset":7,"title":null}},
 "y":{"field":"n","type":"quantitative","axis":null},
 "fill":{"field":"c2007","type":"nominal","legend":null,"scale":{"domain":["under -15","-15 to -10","-10 to -5","-5 to 0","0 to 5","over 5"],"range":["#ff0000","#ff00ff","#ff9a00","#ffff00","#00f000","#0000ff"]}},
 "detail":{"field":"b"},"order":{"value":null}}},
{"data":{"name":"holes"},"mark":{"type":"line","fill":"#ffffff","stroke":"#111","strokeWidth":0.5},
 "encoding":{"x":{"field":"e","type":"quantitative","axis":null},"y":{"field":"n","type":"quantitative","axis":null},"order":{"value":null}}},
{"data":{"name":"cbarBoxes"},"mark":{"type":"rect","stroke":"#333","strokeWidth":0.6},
 "encoding":{"x":{"field":"e0","type":"quantitative","axis":{"orient":"top","domain":true,"values":[-400,0,400],"tickSize":-5,"labels":false,"title":null}},"x2":{"field":"e1"},"y":{"field":"n0","type":"quantitative","axis":null},"y2":{"field":"n1"},"fill":{"field":"cls","type":"nominal","legend":null}}},
{"data":{"name":"cbarTips"},"mark":{"type":"line","stroke":null},
 "encoding":{"x":{"field":"e","type":"quantitative","axis":null},"y":{"field":"n","type":"quantitative","axis":null},"fill":{"field":"cls","type":"nominal","legend":null},"detail":{"field":"cls"},"order":{"value":null}}},
{"data":{"name":"cbarLabels"},"mark":{"type":"text","fontSize":14,"color":"#222"},
 "encoding":{"x":{"field":"e","type":"quantitative","axis":null},"y":{"field":"n","type":"quantitative","axis":null},"text":{"field":"t"}}},
{"data":{"values":[{"t":"Gt yr","e":225,"n":-2.912}]},"mark":{"type":"text","fontSize":20,"color":"#333"},"encoding":{"x":{"field":"e","type":"quantitative","axis":null},"y":{"field":"n","type":"quantitative","axis":null},"text":{"field":"t"}}},
{"data":{"values":[{"t":"-1","e":378,"n":-2.864}]},"mark":{"type":"text","fontSize":10,"color":"#333"},"encoding":{"x":{"field":"e","type":"quantitative","axis":null},"y":{"field":"n","type":"quantitative","axis":null},"text":{"field":"t"}}},
{"data":{"values":[{"t":"C-2007","e":-717,"n":-0.74}]},"mark":{"type":"text","fontSize":23,"color":"#222","align":"left"},"encoding":{"x":{"field":"e","type":"quantitative","axis":null},"y":{"field":"n","type":"quantitative","axis":null},"text":{"field":"t"}}}
]
}
]
}
]
}
